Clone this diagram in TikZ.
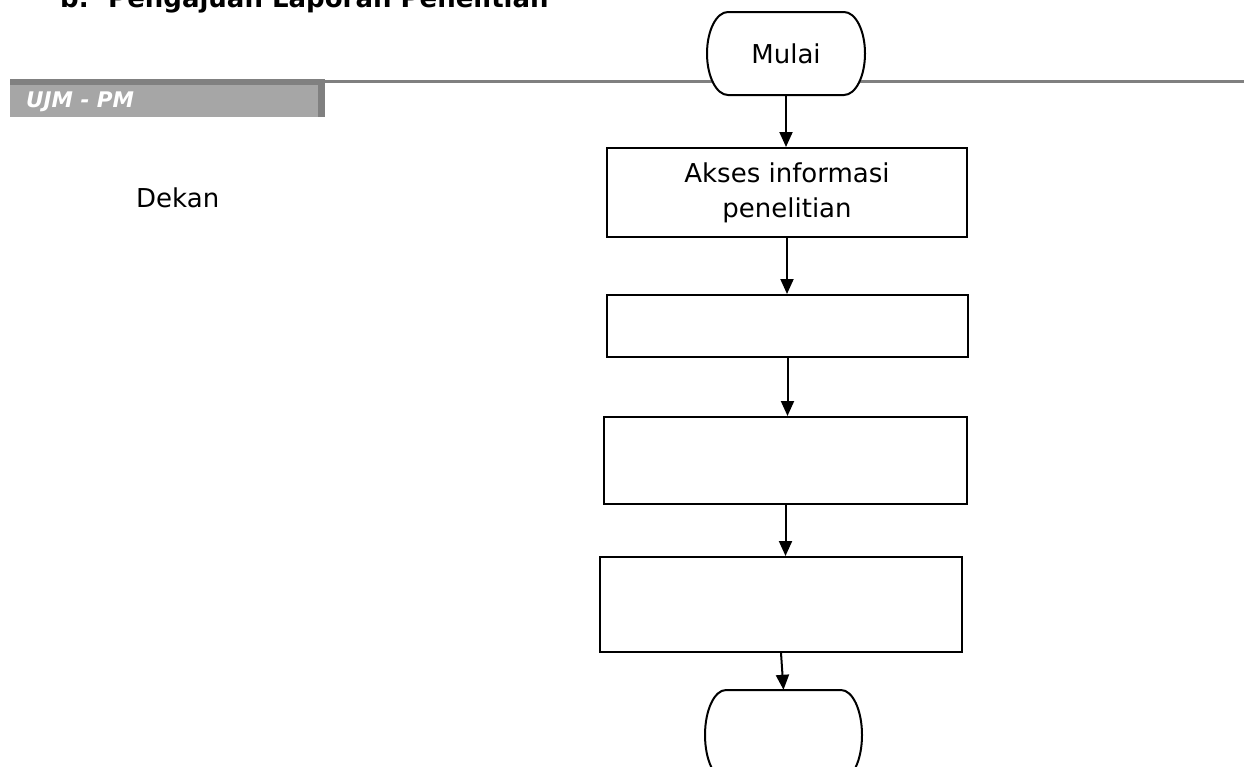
\documentclass[tikz,border=0pt]{standalone}
\usepackage{fontspec}
\setmainfont{DejaVu Sans}
\usepackage{xcolor}
\usepackage{tikz}
\usetikzlibrary{arrows.meta,positioning}
\definecolor{bandfill}{RGB}{166,166,166}
\definecolor{banddark}{RGB}{128,128,128}

% terminator outline: name, x, y, half width, half height
\newcommand{\termbox}[5]{%
  \filldraw[fill=white, draw=black, line width=2pt]
    (#2-#4+21,#3-#5) -- (#2+#4-21,#3-#5)
    arc[start angle=90, end angle=-90, x radius=21pt, y radius=#5pt]
    -- (#2-#4+21,#3+#5)
    arc[start angle=270, end angle=90, x radius=21pt, y radius=#5pt] -- cycle;
  \node[termtxt, minimum width=2*#4 pt, minimum height=2*#5 pt] (#1) at (#2,#3)}

\begin{document}
\begin{tikzpicture}[
  x=1pt, y=-1pt,
  font=\fontsize{26}{35}\selectfont,
  arrow/.style={-{Triangle[length=15pt,width=13pt]}, line width=2pt, draw=black},
  box/.style={rectangle, draw=black, line width=2pt, fill=white,
              inner sep=4pt, align=center},
  termtxt/.style={rectangle, inner sep=0pt},
  lbl/.style={inner sep=0pt, anchor=base west}
]
\clip (0,0) rectangle (1244,766);

% --- Header: title and UJM band ---
\node[lbl, font=\fontsize{26}{32}\selectfont\bfseries] (title) at (60,7)
  {b.\hspace{19.5pt}Pengajuan Laporan Penelitian};
\draw[banddark, line width=3pt] (325,81.5) -- (1244,81.5);
\fill[bandfill] (10,85) rectangle (318,117);
\fill[banddark] (10,79) rectangle (325,85);
\fill[banddark] (318,85) rectangle (325,117);
\node[lbl, font=\fontsize{21.5}{25}\selectfont\bfseries\itshape, text=white] (ujm) at (26,107) {UJM - PM};

% --- Lane label ---
\node[lbl] (dekan) at (136,207) {Dekan};

% --- Flow ---
\termbox{mulai}{786}{53.5}{79}{41.5}{Mulai};
\node[box, minimum width=360pt, minimum height=89pt] (akses) at (787,192.5)
  {Akses informasi\\penelitian};
\node[box, minimum width=361pt, minimum height=62pt] (langkah2) at (787.5,326) {};
\node[box, minimum width=363pt, minimum height=87pt] (langkah3) at (785.5,460.5) {};
\node[box, minimum width=362pt, minimum height=95pt] (langkah4) at (781,604.5) {};
\termbox{selesai}{783.5}{735}{78.5}{45}{};

% --- Arrows ---
\draw[arrow] (mulai.south)    -- (mulai.south |- akses.north);
\draw[arrow] (akses.south)    -- (akses.south |- langkah2.north);
\draw[arrow] (langkah2.south) -- (langkah2.south |- langkah3.north);
\draw[arrow] (langkah3.south) -- (langkah3.south |- langkah4.north);
\draw[arrow] (langkah4.south) -- (selesai.north);

\end{tikzpicture}
\end{document}
